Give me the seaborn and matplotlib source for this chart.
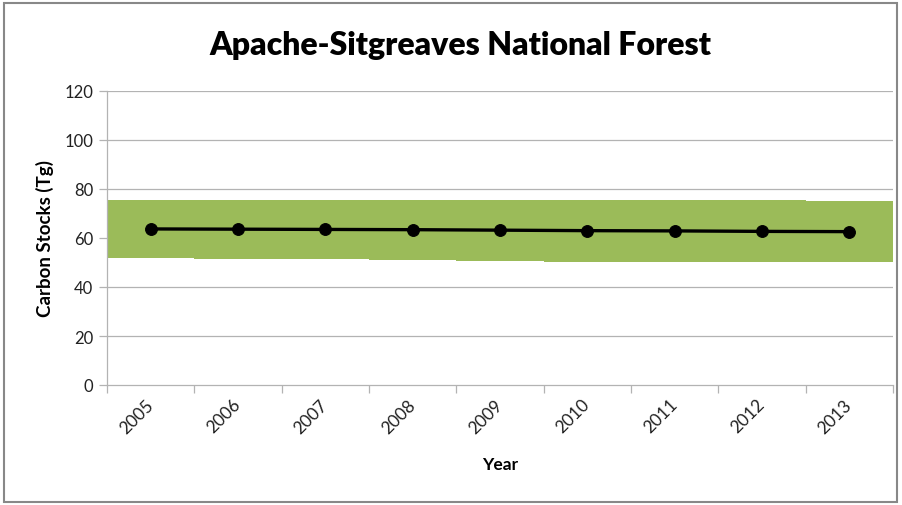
import matplotlib
matplotlib.use("Agg")
import matplotlib.pyplot as plt
from matplotlib.patches import Rectangle
import matplotlib.transforms as mtransforms
import numpy as np
import pandas as pd
import seaborn as sns

years = ["2005", "2006", "2007", "2008", "2009", "2010", "2011", "2012", "2013"]
carbon = [63.7, 63.6, 63.5, 63.4, 63.2, 63.0, 62.9, 62.7, 62.6]
lower = [51.8, 51.4, 51.4, 51.0, 50.6, 50.2, 50.2, 50.2, 50.2]
upper = [75.5, 75.5, 75.5, 75.5, 75.5, 75.5, 75.5, 75.5, 75.1]
yticks = [0, 20, 40, 60, 80, 100, 120]

sns.set_theme(style="white")
plt.rcParams["font.family"] = ["Lato", "DejaVu Sans"]

df = pd.DataFrame({"pos": np.arange(len(years)), "year": years, "carbon": carbon,
                   "lower": lower, "upper": upper})

fig = plt.figure(figsize=(9.03, 5.06), dpi=100)
ax = fig.add_axes([107 / 903, 1 - 386 / 506, (893 - 107) / 903, (386 - 92) / 506])

grid_c = "#b3b3b3"
for t in yticks[1:]:
    ax.axhline(t, color=grid_c, lw=0.9, zorder=0)

ax.bar(df["pos"], df["upper"] - df["lower"], bottom=df["lower"], width=1.0,
       color="#9bbb59", linewidth=0, zorder=1)

sns.lineplot(data=df, x="pos", y="carbon", ax=ax, color="black", lw=2.4,
             marker="o", markersize=8.5, markeredgecolor="black", zorder=3)

ax.set_xlim(-0.5, len(years) - 0.5)
ax.set_ylim(0, 120)
ax.set_yticks(yticks)
ax.set_yticklabels([str(t) for t in yticks], fontsize=12, color="#222222")

ax.set_xticks(np.arange(-0.5, len(years), 1.0))
ax.set_xticklabels([])
ax.set_xticks(np.arange(len(years)), minor=True)
ax.set_xticklabels(years, minor=True, rotation=45, fontsize=12.5, color="#222222",
                   ha="right", va="center", rotation_mode="anchor")
offset = mtransforms.ScaledTranslation(6 / 100, 0, fig.dpi_scale_trans)
for lbl in ax.get_xticklabels(minor=True):
    lbl.set_transform(lbl.get_transform() + offset)
ax.tick_params(axis="x", which="major", length=6, width=0.9, color=grid_c, direction="out", bottom=True)
ax.tick_params(axis="x", which="minor", length=0, pad=12)
ax.tick_params(axis="y", length=6, width=0.9, color=grid_c, direction="out", left=True, pad=4)

for s in ["top", "right"]:
    ax.spines[s].set_visible(False)
for s in ["left", "bottom"]:
    ax.spines[s].set_color(grid_c)
    ax.spines[s].set_linewidth(0.9)

ax.set_xlabel("")
ax.set_ylabel("")
fig.text(45 / 903, 1 - 239 / 506, "Carbon Stocks (Tg)", rotation=90, ha="center", va="center",
         fontsize=13.5, fontweight="bold", color="black")
fig.text(500 / 903, 1 - 465 / 506, "Year", ha="center", va="center",
         fontsize=12.5, fontweight="bold", color="black")
fig.text(460 / 903, 1 - 45 / 506, "Apache-Sitgreaves National Forest", ha="center", va="center",
         fontsize=23, fontweight="heavy", color="black")

fig.patches.append(Rectangle((4 / 903, 1 - 503 / 506), 893 / 903, 499 / 506,
                             transform=fig.transFigure, fill=False, edgecolor="#888888", lw=1.5))

fig.savefig("out.png", dpi=100)
